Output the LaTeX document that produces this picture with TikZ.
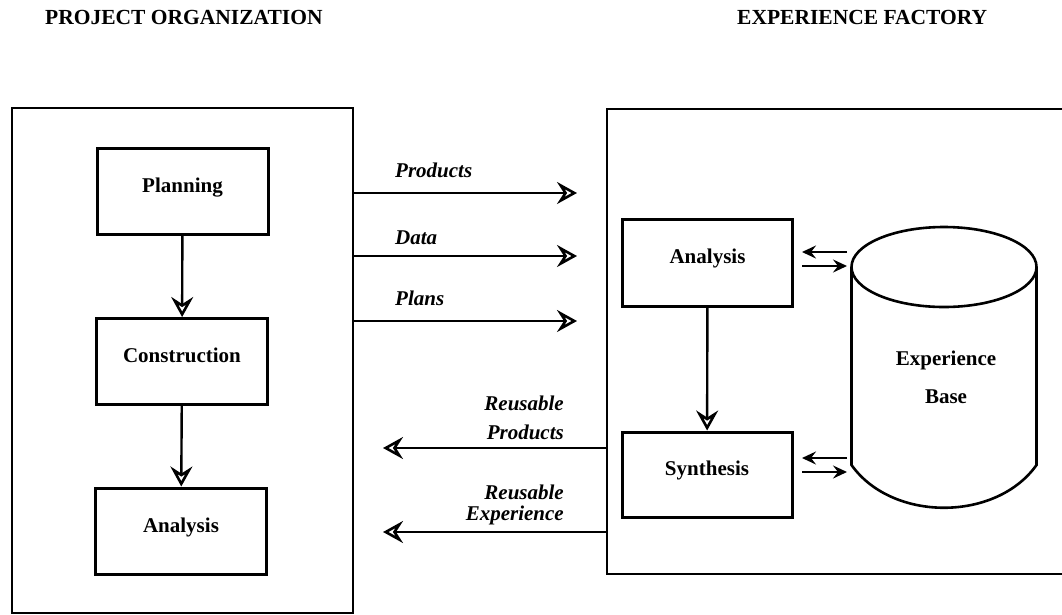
\documentclass[tikz,border=0pt]{standalone}
\usepackage{fontspec}
\setmainfont{Liberation Serif}
\usetikzlibrary{arrows.meta}

\begin{document}
\begin{tikzpicture}[x=1pt, y=-1pt, line join=miter,
		title_style/.style={font=\fontsize{21.5}{24}\selectfont\bfseries, anchor=west, inner sep=0pt},
		frame_style/.style={rectangle, draw=black, line width=2.6pt, inner sep=0pt},
		box_style/.style={rectangle, draw=black, line width=3pt, minimum width=171pt, minimum height=86pt,
			inner sep=0pt, text height=14pt, text depth=12pt, font=\fontsize{21}{24}\selectfont\bfseries},
		flow_style/.style={font=\fontsize{21}{24}\selectfont\bfseries\itshape, inner sep=0pt},
		edge_style/.style={draw=black, line width=2.4pt, -{Stealth[open, length=20pt, width=22pt, inset=7pt, line width=2.6pt]}},
		swap_style/.style={draw=black, line width=2.6pt, -{Stealth[length=14pt, width=13pt, inset=5pt]}}]

		\useasboundingbox (0,0) rectangle (1062,614);

		% headings
		\node[title_style] (h_proj) at (45,17) {PROJECT ORGANIZATION};
		\node[title_style] (h_fact) at (737,17) {EXPERIENCE FACTORY};

		% the two organizations
		\node[frame_style, minimum width=341pt, minimum height=505pt] (proj) at (182.5,360.5) {};
		\node[frame_style, minimum width=463pt, minimum height=465pt] (fact) at (838.5,341.5) {};

		% project side
		\node[box_style] (plan) at (182.5,191.5) {Planning};
		\node[box_style] (constr) at (182,361.5) {Construction};
		\node[box_style] (p_anal) at (181,531) {Analysis};

		\draw[edge_style] (plan) -- (constr);
		\draw[edge_style] (constr) -- (p_anal);

		% factory side
		\node[box_style, minimum width=170pt, minimum height=87pt] (f_anal) at (707.5,262.5) {Analysis};
		\node[box_style, minimum width=170pt, minimum height=85pt] (synth) at (707,474.5) {Synthesis};

		\draw[edge_style] (f_anal) -- (synth);

		% experience base
		\draw[line width=2.6pt] (944,267) ellipse [x radius=92.5, y radius=40];
		\draw[line width=2.6pt] (851.5,267) -- (851.5,465)
			.. controls (892,522) and (996,522) .. (1036.5,465) -- (1036.5,267);
		\node[font=\fontsize{21}{24}\selectfont\bfseries, align=center] (base) at (946,377)
			{Experience\\[14pt]Base};

		\coordinate (a_l) at (802,252);
		\coordinate (a_r) at (847,252);
		\coordinate (b_l) at (802,266);
		\coordinate (b_r) at (847,266);
		\coordinate (c_l) at (802,458);
		\coordinate (c_r) at (847,458);
		\coordinate (d_l) at (802,472);
		\coordinate (d_r) at (847,472);
		\draw[swap_style] (a_r) -- (a_l);
		\draw[swap_style] (b_l) -- (b_r);
		\draw[swap_style] (c_r) -- (c_l);
		\draw[swap_style] (d_l) -- (d_r);

		% flows between the organizations
		\coordinate (products) at (577,193);
		\coordinate (data) at (577,256);
		\coordinate (plans) at (577,321);
		\coordinate (reuse_prod) at (383,448);
		\coordinate (reuse_exp) at (383,532);

		\draw[edge_style] (products -| proj.east) -- (products);
		\draw[edge_style] (data -| proj.east) -- (data);
		\draw[edge_style] (plans -| proj.east) -- (plans);
		\draw[edge_style] (reuse_prod -| fact.west) -- (reuse_prod);
		\draw[edge_style] (reuse_exp -| fact.west) -- (reuse_exp);

		\node[flow_style, anchor=west] (l_products) at (395,170) {Products};
		\node[flow_style, anchor=west] (l_data) at (395,238) {Data};
		\node[flow_style, anchor=west] (l_plans) at (395,298) {Plans};
		\node[flow_style, anchor=east, align=right] (l_reuse_prod) at (564,418) {Reusable\\[5pt]Products};
		\node[flow_style, anchor=east, align=right] (l_reuse_exp) at (564,505) {Reusable\\[-3pt]Experience};

\end{tikzpicture}
\end{document}
